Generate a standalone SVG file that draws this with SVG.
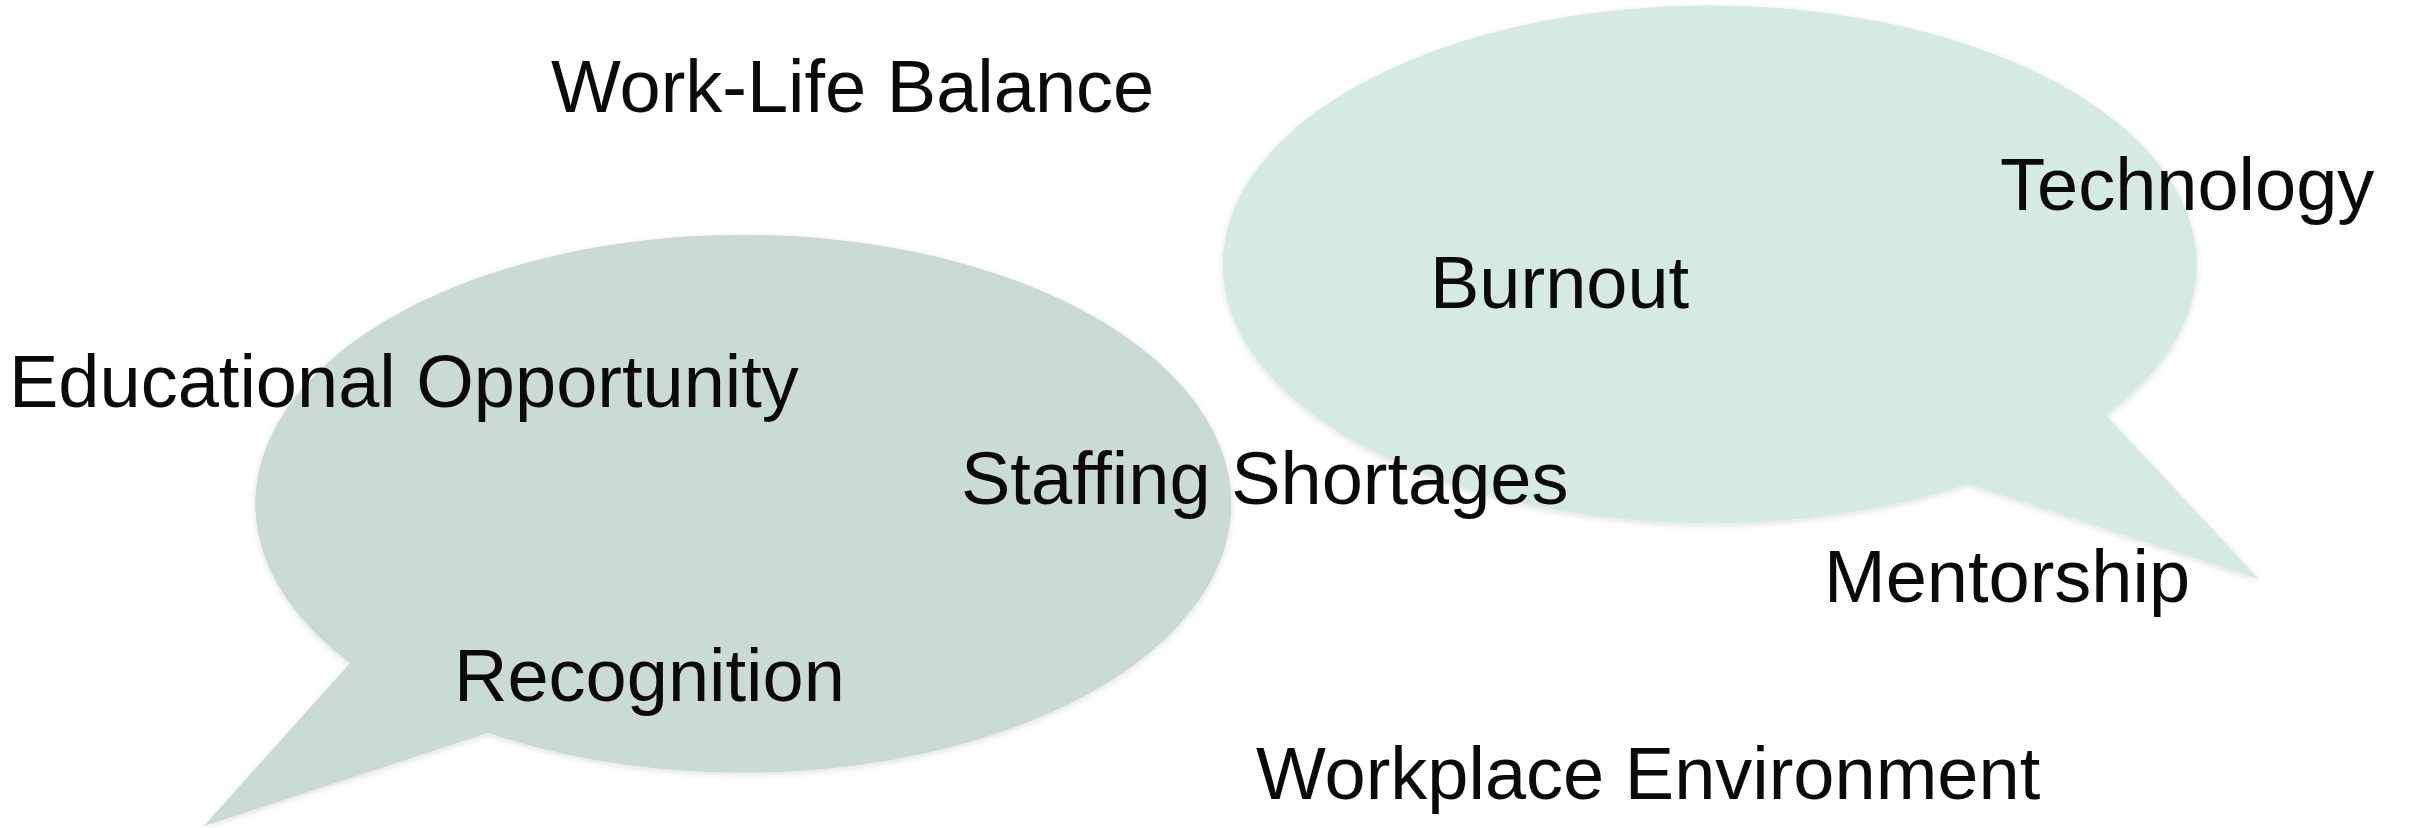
<svg xmlns="http://www.w3.org/2000/svg" width="2412" height="828" viewBox="0 0 2412 828">
  <defs>
    <filter id="soft-shadow" x="-10%" y="-10%" width="120%" height="120%">
      <feDropShadow dx="0" dy="2" stdDeviation="3" flood-color="#000" flood-opacity="0.12"/>
    </filter>
  </defs>
  <style>
    .bubble { filter: url(#soft-shadow); }
    .bubble-left { fill: #C9DBD3; }
    .bubble-right { fill: #D5EAE3; }
    .label { font-family: "Liberation Sans", Arial, sans-serif; font-size: 74px; fill: #0a0a0a; }
  </style>

  <rect width="2412" height="828" fill="#FFFFFF"/>

  <!-- speech bubbles -->
  <g id="bubble-left">
    <path class="bubble bubble-left" d="M 350 663 A 488 269 0 1 1 488 733 L 204 826 Z"/>
  </g>
  <g id="bubble-right">
    <path class="bubble bubble-right" d="M 1968 484 A 487 259 0 1 1 2106 415 L 2259 579 Z"/>
  </g>

  <!-- topic labels -->
  <g id="work-life-balance">
    <text class="label" x="551" y="112">Work-Life Balance</text>
  </g>
  <g id="technology">
    <text class="label" x="2000" y="210">Technology</text>
  </g>
  <g id="burnout">
    <text class="label" x="1430" y="308">Burnout</text>
  </g>
  <g id="educational-opportunity">
    <text class="label" x="9" y="407">Educational Opportunity</text>
  </g>
  <g id="staffing-shortages">
    <text class="label" x="961" y="504">Staffing Shortages</text>
  </g>
  <g id="mentorship">
    <text class="label" x="1824" y="602">Mentorship</text>
  </g>
  <g id="recognition">
    <text class="label" x="454" y="701">Recognition</text>
  </g>
  <g id="workplace-environment">
    <text class="label" x="1256" y="799">Workplace Environment</text>
  </g>
</svg>
